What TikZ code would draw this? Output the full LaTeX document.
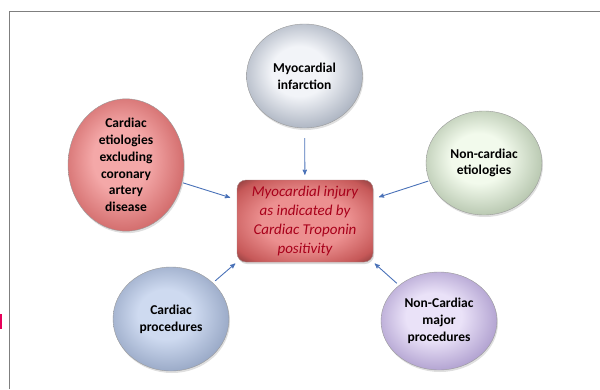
\documentclass[tikz,border=0pt]{standalone}
\usepackage{fontspec}
\setmainfont{Carlito}
\usetikzlibrary{arrows, shapes, shadows}
\definecolor{arrowblue}{HTML}{4A72B8}
\definecolor{injuryred}{HTML}{A8001A}
\definecolor{framegray}{HTML}{7F7F7F}
\definecolor{markpink}{HTML}{E8005A}
\colorlet{sphin}{white}
\colorlet{sphout}{gray}
\pgfdeclareradialshading[sphin,sphout]{sphere}{\pgfpoint{-3bp}{3bp}}{%
  color(0bp)=(sphin); color(12bp)=(sphin); color(28bp)=(sphout); color(33bp)=(sphout!65!black); color(37bp)=(sphout!30!black); color(50bp)=(sphout!30!black)}
\pgfdeclareradialshading[sphin,sphout]{slab}{\pgfpoint{0bp}{0bp}}{%
  color(0bp)=(sphin); color(16bp)=(sphin); color(30bp)=(sphout); color(37bp)=(sphout!60!black); color(50bp)=(sphout!60!black)}
\tikzset{
         tones/.code 2 args={\definecolor{sphin}{HTML}{#1}\definecolor{sphout}{HTML}{#2}},
         myball/.style={ellipse, draw=black!40, line width=.4pt, minimum width=116pt, minimum height=104pt,
                        inner sep=0pt, align=center, font=\fontsize{13.5}{16.8}\selectfont\bfseries,
                        shading=sphere, drop shadow={opacity=.25, shadow xshift=1pt, shadow yshift=-2pt}},
         mygray/.style={myball, tones={F2F4F8}{A8B0BE}},
         myred/.style={myball, tones={F4A8A8}{D06868}},
         mygreen/.style={myball, tones={F2FAEC}{B4C4AC}},
         myblue/.style={myball, tones={CEDAF0}{96A6C4}},
         mypurple/.style={myball, tones={EAE2F8}{AE9ECE}},
         mycore/.style={draw=red!30!black!50, line width=.4pt, rounded corners=9pt, minimum width=136pt, minimum height=82pt,
                        inner sep=0pt, align=center, text=injuryred, font=\fontsize{15}{19}\selectfont\itshape,
                        shading=slab, tones={EC9090}{C65858},
                        drop shadow={opacity=.3, shadow xshift=1pt, shadow yshift=-2pt}},
         myarrow/.style={draw=arrowblue, line width=.9pt}
      }

\begin{document}
\begin{tikzpicture}[->,>=stealth',x=1pt,y=-1pt]
  \useasboundingbox (0,0) rectangle (600,389);
  % frame of the slide
  \draw[-,framegray,line width=1pt] (9.5,389) -- (9.5,11.5) -- (600,11.5);
  \fill[markpink] (0,314) rectangle (2,329);

  \node[mycore]   (core) at (305,221) {Myocardial injury\\as indicated by\\Cardiac Troponin\\positivity};
  \node[mygray]   (mi)   at (304.5,76) {Myocardial\\infarction};
  \node[myred]    (ce)   at (126,165)  {Cardiac\\etiologies\\excluding\\coronary\\artery\\disease};
  \node[mygreen]  (ne)   at (484,163)  {Non-cardiac\\etiologies};
  \node[myblue]   (cp)   at (171,319)  {Cardiac\\procedures};
  \node[mypurple, minimum height=98pt] (np) at (439,321) {Non-Cardiac\\major\\procedures};

  \draw[myarrow, shorten <=10pt, shorten >=5pt] (mi) -- (core);
  \draw[myarrow, shorten <=1pt, shorten >=7pt] (ce) -- (core);
  \draw[myarrow, shorten <=1pt, shorten >=6pt] (ne) -- (core);
  \draw[myarrow, shorten <=3pt, shorten >=2pt] (cp) -- (core.south west);
  \draw[myarrow, shorten <=3pt, shorten >=2pt] (np) -- (core.south east);
\end{tikzpicture}
\end{document}
